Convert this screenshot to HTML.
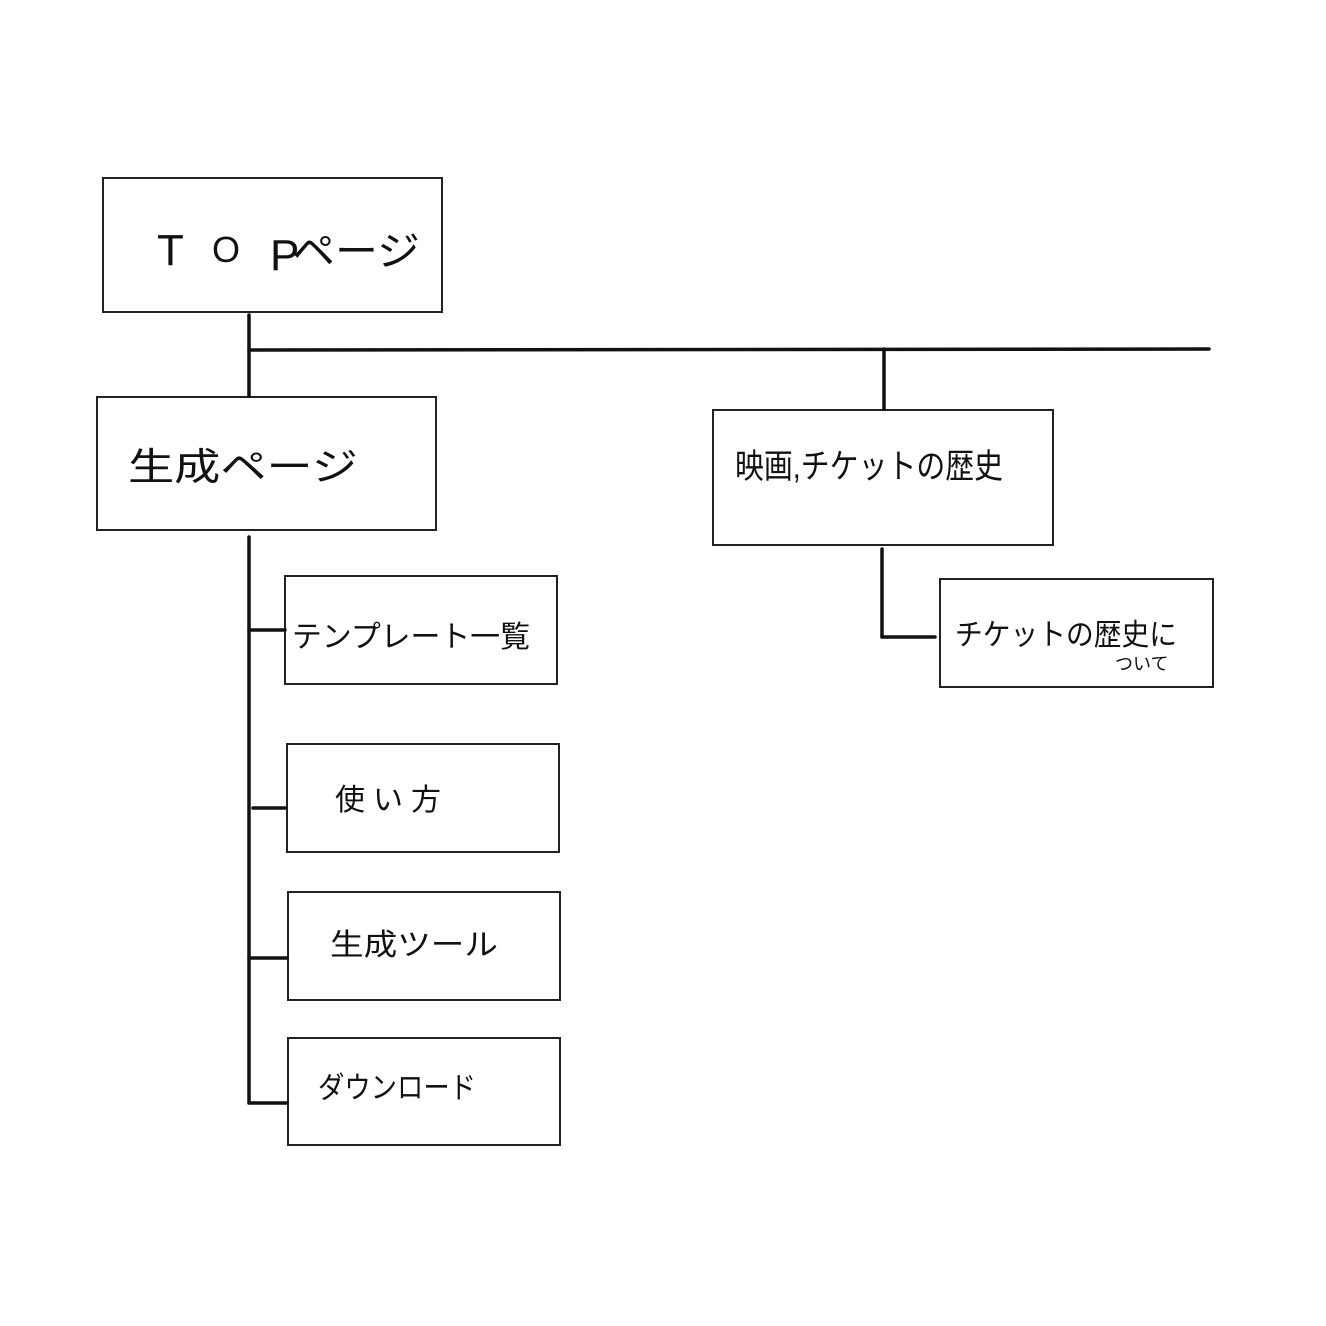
<!DOCTYPE html>
<html><head><meta charset="utf-8"><style>
html,body{margin:0;padding:0;background:#fff;}
svg{display:block}
text{font-family:"Liberation Sans","Noto Sans CJK JP",sans-serif;fill:#111;}
</style></head><body>
<svg width="1326" height="1326" viewBox="0 0 1326 1326" xmlns="http://www.w3.org/2000/svg">
<g fill="none" stroke="#222" stroke-width="2">
<rect x="103" y="178" width="339" height="134"/>
<rect x="97" y="397" width="339" height="133"/>
<rect x="713" y="410" width="340" height="135"/>
<rect x="940" y="579" width="273" height="108"/>
<rect x="285" y="576" width="272" height="108"/>
<rect x="287" y="744" width="272" height="108"/>
<rect x="288" y="892" width="272" height="108"/>
<rect x="288" y="1038" width="272" height="107"/>
</g>
<g fill="none" stroke="#111" stroke-width="3.5" stroke-linecap="round">
<line x1="249" y1="315" x2="249" y2="396"/>
<line x1="249" y1="350" x2="1209" y2="349"/>
<line x1="884" y1="349" x2="884" y2="409"/>
<line x1="249" y1="537" x2="249" y2="1103"/>
<line x1="249" y1="630" x2="285" y2="630"/>
<line x1="253" y1="808" x2="285" y2="808"/>
<line x1="249" y1="958" x2="287" y2="958"/>
<line x1="249" y1="1103" x2="287" y2="1103"/>
<line x1="882" y1="549" x2="882" y2="637"/>
<line x1="882" y1="637" x2="935" y2="637"/>
</g>
<text x="157" y="265" font-size="44">T</text>
<text x="212" y="262" font-size="36">O</text>
<text x="270" y="270" font-size="44">P</text>
<text x="292" y="265" font-size="40" textLength="128" lengthAdjust="spacingAndGlyphs">ページ</text>
<text x="128" y="480" font-size="38" textLength="230" lengthAdjust="spacingAndGlyphs">生成ページ</text>
<text x="735" y="478" font-size="34" textLength="268" lengthAdjust="spacingAndGlyphs">映画,チケットの歴史</text>
<text x="955" y="645" font-size="30" textLength="222" lengthAdjust="spacingAndGlyphs">チケットの歴史に</text>
<text x="1115" y="670" font-size="18">ついて</text>
<text x="292" y="647" font-size="30" textLength="238" lengthAdjust="spacingAndGlyphs">テンプレート一覧</text>
<text x="335" y="810" font-size="30" letter-spacing="8">使い方</text>
<text x="330" y="955" font-size="30" textLength="168" lengthAdjust="spacingAndGlyphs">生成ツール</text>
<text x="318" y="1098" font-size="30" textLength="158" lengthAdjust="spacingAndGlyphs">ダウンロード</text>
</svg>
</body></html>
